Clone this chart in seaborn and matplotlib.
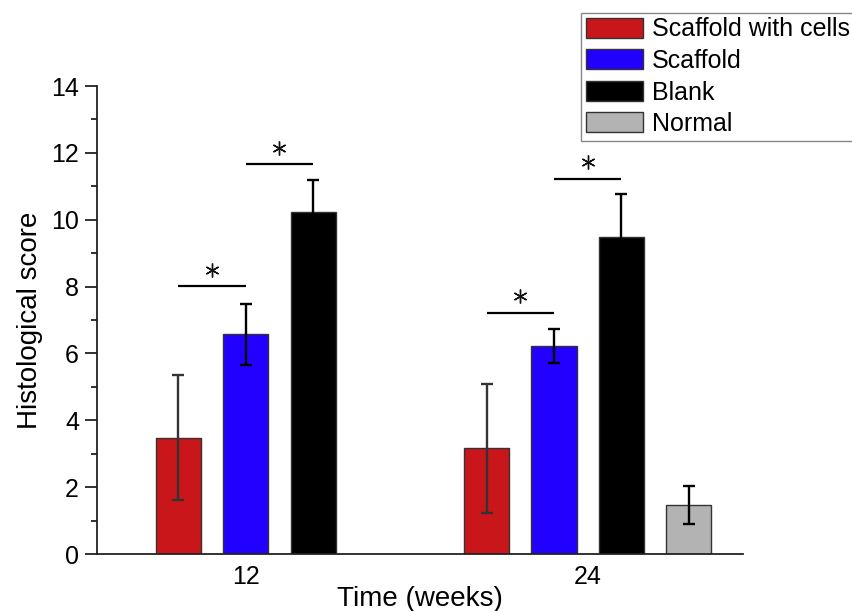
import pandas as pd
import matplotlib.pyplot as plt
import seaborn as sns
from matplotlib.ticker import MultipleLocator

# values
TIMES = ["12", "24"]
CONDITIONS = ["Scaffold with cells", "Scaffold", "Blank", "Normal"]
COLORS = ["#C8161B", "#2200FF", "#000000", "#B3B3B3"]

week12_mean = [3.48, 6.57, 10.24]
week12_err = [1.87, 0.91, 0.94]
week24_mean = [3.16, 6.22, 9.49, 1.47]
week24_err = [1.92, 0.50, 1.28, 0.57]

# significance brackets: (time, cond a, cond b, height)
brackets = [
    ("12", "Scaffold with cells", "Scaffold", 8.01),
    ("12", "Scaffold", "Blank", 11.66),
    ("24", "Scaffold with cells", "Scaffold", 7.22),
    ("24", "Scaffold", "Blank", 11.23),
]

SLOT = 0.197

records = []
for t_idx, (t, means, errs) in enumerate(
    [("12", week12_mean, week12_err), ("24", week24_mean, week24_err)]
):
    n = len(means)
    for i, (m, e) in enumerate(zip(means, errs)):
        pos = t_idx + (i - (n - 1) / 2) * SLOT
        records.append(
            {"time": t, "condition": CONDITIONS[i], "score": m, "err": e, "pos": pos}
        )
df = pd.DataFrame(records)

sns.set_style("white")
plt.rcParams["font.family"] = ["Liberation Sans", "DejaVu Sans"]
plt.rcParams["text.color"] = "black"
plt.rcParams["axes.labelcolor"] = "black"
plt.rcParams["xtick.color"] = "black"
plt.rcParams["ytick.color"] = "black"

fig = plt.figure(figsize=(8.53, 6.11), dpi=100)
ax = fig.add_axes([97 / 853, 1 - 554 / 611, (743 - 97) / 853, (554 - 86) / 611])

sns.barplot(
    data=df,
    x="pos",
    y="score",
    hue="condition",
    hue_order=CONDITIONS,
    palette=dict(zip(CONDITIONS, COLORS)),
    saturation=1,
    native_scale=True,
    dodge=False,
    width=0.67,
    edgecolor="#333333",
    linewidth=1.0,
    errorbar=None,
    ax=ax,
)

handles, labels = ax.get_legend_handles_labels()
if ax.get_legend() is not None:
    ax.get_legend().remove()

for _, row in df.iterrows():
    ecol = "#333333" if row["condition"] == "Scaffold with cells" else "black"
    ax.errorbar(
        row["pos"], row["score"], yerr=row["err"], fmt="none",
        ecolor=ecol, elinewidth=1.7, capsize=4.3, capthick=1.7, zorder=5,
    )

for t, a, b, h in brackets:
    sub = df[df["time"] == t].set_index("condition")
    xa, xb = sub.loc[a, "pos"], sub.loc[b, "pos"]
    ax.plot([xa, xb], [h, h], color="black", lw=1.6, solid_capstyle="butt")
    ax.plot((xa + xb) / 2, h + 0.5, marker=(6, 2, 0), markersize=10,
            markeredgewidth=1.0, color="#111111", linestyle="none")

ax.set_xlim(-0.435, 1.454)
ax.set_ylim(0, 14)
ax.set_xticks([0, 1])
ax.set_xticklabels(TIMES)
ax.yaxis.set_major_locator(MultipleLocator(2))
ax.yaxis.set_minor_locator(MultipleLocator(1))
ax.tick_params(axis="y", which="major", direction="out", length=9, width=1.3,
               color="#222222", labelsize=18, pad=4, left=True)
ax.tick_params(axis="y", which="minor", direction="out", length=4.5, width=1.3,
               color="#222222", left=True)
ax.tick_params(axis="x", length=0, labelsize=18, pad=8)

for side in ["top", "right"]:
    ax.spines[side].set_visible(False)
for side in ["left", "bottom"]:
    ax.spines[side].set_linewidth(1.3)
    ax.spines[side].set_color("#222222")

ax.set_xlabel("Time (weeks)", fontsize=20, labelpad=-2)
ax.set_ylabel("Histological score", fontsize=20, labelpad=6)

leg = fig.legend(
    handles, labels,
    loc="upper left",
    bbox_to_anchor=(581 / 853, 1 - 13 / 611),
    fontsize=18,
    frameon=True,
    fancybox=False,
    framealpha=1,
    edgecolor="#888888",
    borderpad=0.18,
    labelspacing=0.3,
    handlelength=2.3,
    handleheight=0.85,
    handletextpad=0.35,
    borderaxespad=0,
)
leg.get_frame().set_linewidth(1.0)

fig.savefig("out.png", dpi=100)
